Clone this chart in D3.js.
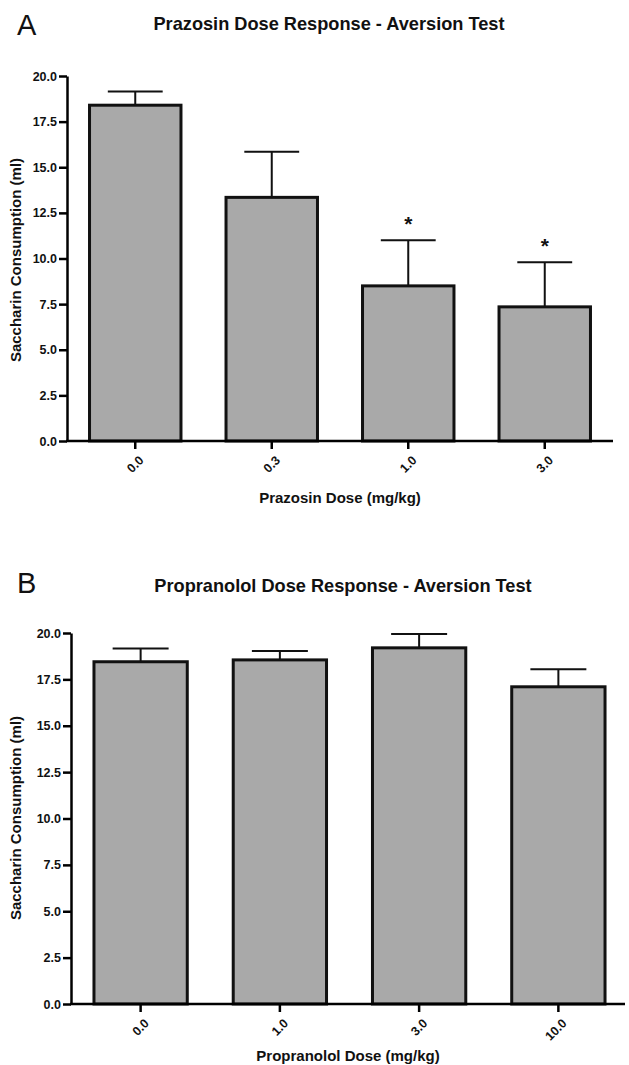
<!DOCTYPE html>
<html>
<head>
<meta charset="utf-8">
<script src="https://cdn.jsdelivr.net/npm/d3@7"></script>
<style>
  body { margin: 0; background: #fff; }
  svg { font-family: "Liberation Sans", Arial, sans-serif; }
  .axis path, .axis line { stroke: #000; stroke-width: 2.5px; }
  .axis text { font-size: 12.5px; font-weight: bold; fill: #111; }
  .title, .label { font-weight: bold; fill: #111; }
</style>
</head>
<body>
<div id="chart"></div>
<script>
// Panel A data
var prazosinDoses = ["0.0", "0.3", "1.0", "3.0"];
var prazosinMeans = [18.4, 13.35, 8.5, 7.35];
var prazosinErr = [0.75, 2.5, 2.5, 2.45];
var prazosinStars = ["", "", "*", "*"];

// Panel B data
var propranololDoses = ["0.0", "1.0", "3.0", "10.0"];
var propranololMeans = [18.45, 18.55, 19.2, 17.1];
var propranololErr = [0.72, 0.48, 0.75, 0.95];

var yTicks = [0, 2.5, 5, 7.5, 10, 12.5, 15, 17.5, 20];

var svg = d3.select("#chart").append("svg")
    .attr("width", 629)
    .attr("height", 1065);

function drawPanel(opt) {
    var g = svg.append("g");

    var x = d3.scaleBand()
        .domain(opt.doses)
        .range([opt.left, opt.right])
        .paddingInner(0.33)
        .paddingOuter(0.165);

    var y = d3.scaleLinear()
        .domain([0, 20])
        .range([opt.bottom, opt.top]);

    var data = opt.doses.map(function(d, i) {
        return {dose: d, mean: opt.means[i], err: opt.err[i], star: opt.stars ? opt.stars[i] : ""};
    });

    // panel letter and title
    g.append("text")
        .attr("x", 17)
        .attr("y", opt.letterY)
        .attr("font-size", 29)
        .attr("fill", "#111")
        .text(opt.letter);

    g.append("text")
        .attr("class", "title")
        .attr("x", opt.titleX)
        .attr("y", opt.titleY)
        .attr("text-anchor", "middle")
        .attr("font-size", 18.2)
        .text(opt.title);

    // error bars (drawn first so bar covers the stem)
    var capW = x.bandwidth() * 0.3;
    g.selectAll(".err")
        .data(data)
        .enter()
        .append("path")
        .attr("class", "err")
        .attr("fill", "none")
        .attr("stroke", "#111")
        .attr("stroke-width", 2)
        .attr("d", function(d) {
            var cx = x(d.dose) + x.bandwidth() / 2;
            return "M" + cx + "," + y(d.mean) + "V" + y(d.mean + d.err) +
                "M" + (cx - capW) + "," + y(d.mean + d.err) + "H" + (cx + capW);
        });

    g.selectAll(".bar")
        .data(data)
        .enter()
        .append("rect")
        .attr("class", "bar")
        .attr("x", function(d) { return x(d.dose); })
        .attr("y", function(d) { return y(d.mean); })
        .attr("width", x.bandwidth())
        .attr("height", function(d) { return y(0) - y(d.mean); })
        .attr("fill", "#a9a9a9")
        .attr("stroke", "#111")
        .attr("stroke-width", 3);

    g.selectAll(".star")
        .data(data.filter(function(d) { return d.star; }))
        .enter()
        .append("text")
        .attr("class", "star")
        .attr("x", function(d) { return x(d.dose) + x.bandwidth() / 2; })
        .attr("y", function(d) { return y(d.mean + d.err) - 9; })
        .attr("text-anchor", "middle")
        .attr("font-size", 21)
        .attr("font-weight", "bold")
        .attr("fill", "#111")
        .text(function(d) { return d.star; });

    // axes
    var yAxis = d3.axisLeft(y)
        .tickValues(yTicks)
        .tickFormat(d3.format(".1f"))
        .tickSize(8)
        .tickPadding(2)
        .tickSizeOuter(0);

    g.append("g")
        .attr("class", "axis")
        .attr("transform", "translate(" + opt.left + ",0)")
        .call(yAxis);

    var xAxis = d3.axisBottom(x)
        .tickSize(8)
        .tickSizeOuter(0);

    var xg = g.append("g")
        .attr("class", "axis")
        .attr("transform", "translate(0," + opt.bottom + ")")
        .call(xAxis);

    xg.select(".domain")
        .attr("d", "M" + (opt.left - 1) + ",0H" + opt.axisEnd);

    xg.selectAll("text")
        .attr("text-anchor", "end")
        .attr("dy", "0.35em")
        .attr("transform", "translate(6,17) rotate(-45)")
        .attr("x", 0)
        .attr("y", 0);

    // axis labels
    g.append("text")
        .attr("class", "label")
        .attr("x", opt.xLabelX)
        .attr("y", opt.xLabelY)
        .attr("text-anchor", "middle")
        .attr("font-size", 15)
        .text(opt.xLabel);

    g.append("text")
        .attr("class", "label")
        .attr("transform", "translate(" + opt.yLabelX + "," + opt.yLabelY + ") rotate(-90)")
        .attr("text-anchor", "middle")
        .attr("font-size", 15)
        .text("Saccharin Consumption (ml)");
}

drawPanel({
    letter: "A", letterY: 35,
    title: "Prazosin Dose Response - Aversion Test", titleX: 329, titleY: 30,
    doses: prazosinDoses, means: prazosinMeans, err: prazosinErr, stars: prazosinStars,
    left: 67, right: 613, axisEnd: 613, top: 76, bottom: 441,
    xLabel: "Prazosin Dose (mg/kg)", xLabelX: 340, xLabelY: 503,
    yLabelX: 21, yLabelY: 260
});

drawPanel({
    letter: "B", letterY: 593,
    title: "Propranolol Dose Response - Aversion Test", titleX: 343, titleY: 592,
    doses: propranololDoses, means: propranololMeans, err: propranololErr,
    left: 71, right: 628, axisEnd: 625, top: 633, bottom: 1004,
    xLabel: "Propranolol Dose (mg/kg)", xLabelX: 348, xLabelY: 1061,
    yLabelX: 21, yLabelY: 818
});
</script>
</body>
</html>
